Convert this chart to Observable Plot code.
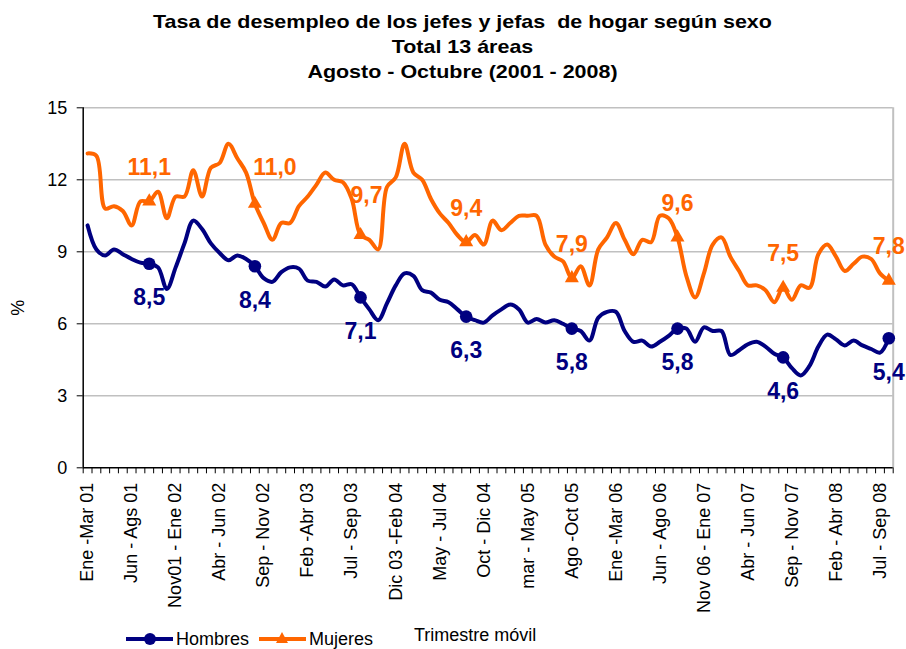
<!DOCTYPE html>
<html><head><meta charset="utf-8">
<script src="https://cdn.jsdelivr.net/npm/d3@7"></script>
<script src="https://cdn.jsdelivr.net/npm/@observablehq/plot@0.6"></script>
<style>
body{margin:0;background:#fff;}
#wrap{position:relative;width:906px;height:649px;overflow:hidden;font-family:"Liberation Sans",Arial,sans-serif;color:#000;background:#fff;}
#chart{position:absolute;left:0;top:0;}
#title{position:absolute;left:0;top:9px;width:925px;text-align:center;font-weight:bold;font-size:19px;line-height:25px;transform:scaleX(1.13);transform-origin:462.5px 0;}
.abs{position:absolute;}
.txt{font-size:18px;line-height:18px;white-space:nowrap;}
</style></head><body>
<div id="wrap">
  <div id="chart"></div>
  <div id="title">Tasa de desempleo de los jefes y jefas&nbsp; de hogar según sexo<br>Total 13 áreas<br>Agosto - Octubre (2001 - 2008)</div>
  <div class="abs" style="left:126px;top:637px;width:47px;height:4px;background:#000080"></div>
  <div class="abs" style="left:143.5px;top:633px;width:12px;height:12px;border-radius:50%;background:#000080"></div>
  <div class="abs txt" style="left:176px;top:629.5px">Hombres</div>
  <div class="abs" style="left:259px;top:637px;width:47px;height:4px;background:#FF6600"></div>
  <div class="abs" style="left:276px;top:632px;width:0;height:0;border-left:6.5px solid transparent;border-right:6.5px solid transparent;border-bottom:11px solid #FF6600"></div>
  <div class="abs txt" style="left:309px;top:629.5px">Mujeres</div>
</div>
<script>
const tickLabels = ["Ene -Mar 01","Jun - Ags 01","Nov01 - Ene 02","Abr - Jun 02","Sep - Nov 02","Feb -Abr 03","Jul - Sep 03","Dic 03 -Feb 04","May - Jul 04","Oct - Dic 04","mar - May 05","Ago -Oct 05","Ene -Mar 06","Jun - Ago 06","Nov 06 - Ene 07","Abr - Jun 07","Sep - Nov 07","Feb - Abr 08","Jul - Sep 08"];
const tickIndex = [0,5,10,15,20,25,30,35,40,45,50,55,60,65,70,75,80,85,90];
const hombres = [10.1,9.1,8.85,9.1,8.9,8.7,8.55,8.5,8.35,7.45,8.35,9.35,10.3,9.95,9.35,8.95,8.65,8.85,8.7,8.4,
  7.9,7.75,8.15,8.35,8.3,7.8,7.75,7.55,7.85,7.6,7.65,7.1,6.6,6.15,6.85,7.6,8.1,8.0,7.4,7.3,
  7.0,6.9,6.6,6.3,6.15,6.05,6.35,6.6,6.8,6.6,6.05,6.2,6.05,6.15,6.0,5.8,5.7,5.3,6.25,6.5,
  6.5,5.7,5.25,5.3,5.05,5.25,5.5,5.8,5.8,5.25,5.85,5.7,5.7,4.7,4.9,5.15,5.25,5.05,4.75,4.6,
  4.15,3.85,4.25,5.05,5.55,5.35,5.1,5.3,5.1,4.95,4.8,5.4];
const mujeres = [13.1,13.0,10.8,10.9,10.7,10.1,11.1,11.1,11.5,10.4,11.3,11.3,12.4,11.3,12.5,12.7,13.5,12.9,12.3,11.0,
  10.2,9.5,10.2,10.2,10.9,11.3,11.8,12.3,12.0,11.9,11.2,9.7,9.5,9.1,11.7,12.1,13.5,12.3,12.0,11.2,
  10.6,10.2,9.7,9.4,9.7,9.3,10.3,9.9,10.2,10.5,10.5,10.5,9.3,8.8,8.6,7.9,8.4,7.6,9.1,9.6,
  10.2,9.5,8.9,9.5,9.4,10.5,10.4,9.6,8.0,7.1,8.1,9.3,9.6,8.8,8.2,7.6,7.6,7.4,6.9,7.5,
  7.0,7.6,7.5,8.9,9.3,8.8,8.2,8.5,8.8,8.7,8.1,7.8];
const labeledIndex = [7,19,31,43,55,67,79,91];
const yTicks = [0,3,6,9,12,15];
const seriesNames = ["Hombres","Mujeres"];

const n = hombres.length;
const rows = [];
hombres.forEach((v, i) => rows.push({i, v, s: "Hombres"}));
mujeres.forEach((v, i) => rows.push({i, v, s: "Mujeres"}));
const marked = rows.filter(d => labeledIndex.includes(d.i));
const fmt = v => d3.format(".1f")(v).replace(".", ",");
const mH = marked.filter(d => d.s === "Hombres");
const mM = marked.filter(d => d.s === "Mujeres");
const shiftA = [19], shiftB = [31];
const mMplain = mM.filter(d => !shiftA.includes(d.i) && !shiftB.includes(d.i));
const lblStyle = {x: "i", y: "v", text: d => fmt(d.v), fill: "s", fontWeight: "bold", fontSize: 23};

const chart = Plot.plot({
  width: 906, height: 649,
  marginLeft: 82.7, marginRight: 13.3, marginTop: 107.3, marginBottom: 181.7,
  style: {fontFamily: '"Liberation Sans", Arial, sans-serif', fontSize: "18px", color: "#000", background: "transparent", overflow: "visible"},
  x: {type: "linear", domain: [-0.5, n - 0.5]},
  y: {domain: [0, 15]},
  color: {domain: seriesNames, range: ["#000080", "#FF6600"]},
  marks: [
    Plot.ruleY(yTicks.filter(t => t > 0), {stroke: "#c0c0c0", strokeWidth: 1.5}),
    Plot.ruleX([n - 0.5], {stroke: "#c0c0c0", strokeWidth: 2}),
    Plot.axisY(yTicks, {tickSize: 6, tickPadding: 10, fontSize: 18, label: null}),
    Plot.axisX(d3.range(n + 1).map(k => k - 0.5), {tickSize: 6, tickFormat: () => "", label: null}),
    Plot.axisX(tickIndex, {tickSize: 0, tickPadding: 15, tickRotate: -90, fontSize: 18, label: null,
      tickFormat: d => tickLabels[tickIndex.indexOf(d)]}),
    Plot.ruleY([0], {stroke: "#000", strokeWidth: 1.5}),
    Plot.ruleX([-0.5], {stroke: "#000", strokeWidth: 1.5}),
    Plot.text(["%"], {frameAnchor: "left", dx: -65, dy: 28, rotate: -90, fontSize: 18}),
    Plot.text(["Trimestre móvil"], {frameAnchor: "bottom", dx: -13, dy: 173, fontSize: 18}),
    Plot.line(rows, {x: "i", y: "v", z: "s", stroke: "s", strokeWidth: 4, curve: "catmull-rom"}),
    Plot.dot(mH, {x: "i", y: "v", r: 6.3, fill: "s", symbol: "circle"}),
    Plot.dot(mM, {x: "i", y: "v", r: 5.2, fill: "s", symbol: "triangle"}),
    Plot.text(mH, {...lblStyle, dy: 34}),
    Plot.text(mMplain, {...lblStyle, dy: -34}),
    Plot.text(mM.filter(d => shiftA.includes(d.i)), {...lblStyle, dy: -36, dx: 20}),
    Plot.text(mM.filter(d => shiftB.includes(d.i)), {...lblStyle, dy: -39, dx: 6})
  ]
});
document.getElementById("chart").appendChild(chart);
</script>
</body></html>
